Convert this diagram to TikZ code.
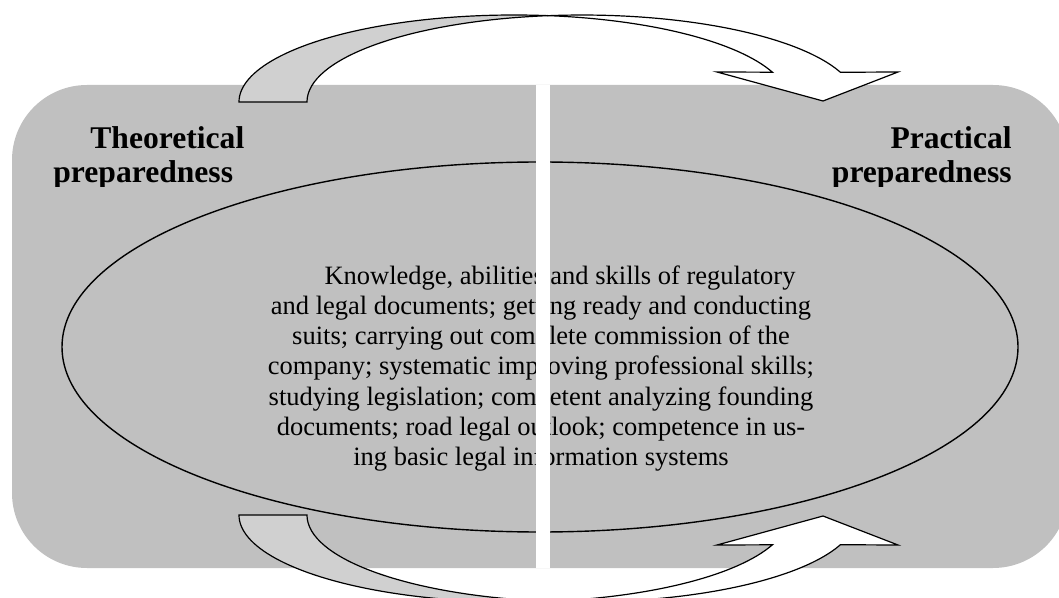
\documentclass[tikz,border=0pt]{standalone}
\usepackage{fontspec}
\setmainfont{Liberation Serif}
\definecolor{boxgray}{HTML}{C0C0C0}
\definecolor{tailgray}{HTML}{D0D0D0}

\begin{document}
\begin{tikzpicture}[x=0.5pt,y=-0.5pt]
        \tikzstyle{every node}+=[inner sep=0pt]
        \tikzstyle{head}=[font=\fontsize{15.8}{17}\selectfont\bfseries]
        \tikzstyle{body}=[font=\fontsize{13.25}{15.15}\selectfont, align=center]
        \tikzstyle{backside}=[draw=black, line width=0.6pt, fill=tailgray]
        \tikzstyle{frontside}=[draw=black, line width=0.6pt, fill=white]
        \useasboundingbox (0,0) rectangle (1059,598);
        \fill [boxgray, rounded corners=37.5pt] (12,85) rectangle (1068,568);
        \draw [black, line width=0.7pt] (540,347) ellipse [x radius=478, y radius=185];
        \node (skills) [body, anchor=north] at (541,265)
          {\hspace*{19pt}Knowledge, abilities and skills of regulatory\\
           and legal documents; getting ready and conducting\\
           suits; carrying out complete commission of the\\
           company; systematic improving professional skills;\\
           studying legislation; competent analyzing founding\\
           documents; road legal outlook; competence in us-\\
           ing basic legal information systems};
        \fill [white] (536,85) rectangle (550,568);
        \begin{scope}
          \clip (0,0) rectangle (1059,187);
          \node (theo) [head, anchor=base west] at (90,149) {Theoretical};
          \node (theoprep) [head, anchor=base west] at (53,183) {preparedness};
          \node (prac) [head, anchor=base east] at (1012,149) {Practical};
          \node (pracprep) [head, anchor=base east] at (1012,183) {preparedness};
        \end{scope}
        \draw [backside] (239,102) arc [start angle=180, end angle=277.1, x radius=275, y radius=87]
          arc [start angle=262.9, end angle=180, x radius=275, y radius=87] -- cycle;
        \draw [frontside] (548,15.7) arc [start angle=262.9, end angle=340, x radius=275, y radius=87]
          -- (898,72) -- (823,101) -- (717,72) -- (772.4,72.2)
          arc [start angle=340, end angle=277.1, x radius=275, y radius=87] -- cycle;
        \draw [backside] (239,515) arc [start angle=180, end angle=82.9, x radius=275, y radius=87]
          arc [start angle=97.1, end angle=180, x radius=275, y radius=87] -- cycle;
        \draw [frontside] (548,601.3) arc [start angle=97.1, end angle=20, x radius=275, y radius=87]
          -- (898,545) -- (823,516) -- (717,545) -- (772.4,544.8)
          arc [start angle=20, end angle=82.9, x radius=275, y radius=87] -- cycle;
\end{tikzpicture}
\end{document}
